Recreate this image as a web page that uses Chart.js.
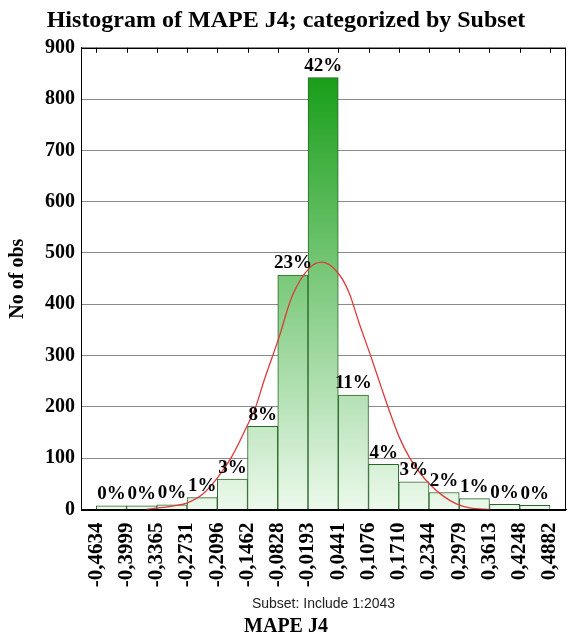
<!DOCTYPE html>
<html>
<head>
<meta charset="utf-8">
<script src="https://cdn.jsdelivr.net/npm/chart.js@4/dist/chart.umd.min.js"></script>
<style>
  html, body { margin: 0; padding: 0; background: #ffffff; }
  #wrap { width: 568px; height: 637px; }
</style>
</head>
<body>
<div id="wrap"><canvas id="c" width="568" height="637"></canvas></div>
<script>
// ---- data ----
const binEdges = [-0.4634, -0.3999, -0.3365, -0.2731, -0.2096, -0.1462, -0.0828, -0.0193,
                  0.0441, 0.1076, 0.1710, 0.2344, 0.2979, 0.3613, 0.4248, 0.4882];
const tickLabels = ["-0,4634", "-0,3999", "-0,3365", "-0,2731", "-0,2096", "-0,1462", "-0,0828", "-0,0193",
                    "0,0441", "0,1076", "0,1710", "0,2344", "0,2979", "0,3613", "0,4248", "0,4882"];
const counts = [7, 7, 9, 23, 59, 162, 457, 842, 223, 88, 54, 33, 21, 10, 8];
const percentLabels = ["0%", "0%", "0%", "1%", "3%", "8%", "23%", "42%", "11%", "4%", "3%", "2%", "1%", "0%", "0%"];
const curveX = [-0.358, -0.333, -0.301, -0.272, -0.240, -0.209, -0.178, -0.146, -0.129, -0.112, -0.080,
                -0.053, -0.017, 0.010, 0.046, 0.067, 0.088, 0.113, 0.134, 0.151, 0.172, 0.193, 0.214,
                0.235, 0.263, 0.292, 0.320, 0.362];
const curveY = [0, 3, 7, 13, 30, 62, 105, 165, 200, 250, 336,
                415, 470, 482, 458, 422, 363, 297, 239, 193, 141, 102, 73,
                50, 27, 11, 3, 0];
const yTicks = [0, 100, 200, 300, 400, 500, 600, 700, 800, 900];

const SERIF = "'Liberation Serif', 'Times New Roman', serif";
const SANS = "'Liberation Sans', Arial, sans-serif";

const barPoints = counts.map((c, i) => ({ x: (binEdges[i] + binEdges[i + 1]) / 2, y: c }));
const curvePoints = curveX.map((x, i) => ({ x: x, y: curveY[i] }));

const framePlugin = {
  id: 'frame',
  afterDatasetsDraw(chart) {
    const { ctx, chartArea: a, scales } = chart;
    ctx.save();
    // percentage labels
    const meta = chart.getDatasetMeta(1);
    ctx.fillStyle = '#000';
    ctx.font = 'bold 19px ' + SERIF;
    ctx.textAlign = 'center';
    ctx.textBaseline = 'bottom';
    meta.data.forEach((bar, i) => {
      ctx.fillText(percentLabels[i], bar.x, bar.y - 2);
    });
    // frame
    ctx.strokeStyle = '#000';
    ctx.lineWidth = 1;
    ctx.strokeRect(Math.round(a.left) + 0.5, Math.round(a.top) + 0.5,
                   Math.round(a.right - a.left) - 1, Math.round(a.bottom - a.top));
    // inward ticks on top edge
    ctx.beginPath();
    binEdges.forEach(v => {
      const px = Math.round(scales.x.getPixelForValue(v)) + 0.5;
      ctx.moveTo(px, a.top);
      ctx.lineTo(px, a.top + 5);
    });
    ctx.stroke();
    ctx.restore();
  }
};

new Chart(document.getElementById('c'), {
  type: 'bar',
  data: {
    datasets: [
      {
        type: 'line',
        data: curvePoints,
        borderColor: '#dd3b3b',
        borderWidth: 1.3,
        pointRadius: 0,
        cubicInterpolationMode: 'monotone',
        fill: false,
        order: 0
      },
      {
        type: 'bar',
        data: barPoints,
        barPercentage: 1.0,
        categoryPercentage: 1.0,
        borderWidth: 1,
        borderColor: '#2a662a',
        backgroundColor: (ctx) => {
          const chart = ctx.chart;
          const a = chart.chartArea;
          if (!a) return '#8c8';
          const g = chart.ctx.createLinearGradient(0, a.top, 0, a.bottom);
          g.addColorStop(0, 'rgb(10,152,10)');
          g.addColorStop(1, 'rgb(236,249,236)');
          return g;
        },
        order: 1
      }
    ]
  },
  options: {
    responsive: false,
    devicePixelRatio: 1,
    animation: false,
    layout: { padding: { left: 6, right: 2, top: 0, bottom: 0 } },
    plugins: {
      legend: { display: false },
      tooltip: { enabled: false },
      title: {
        display: true,
        text: 'Histogram of MAPE J4; categorized by Subset',
        color: '#000',
        font: { family: SERIF, size: 24, weight: 'bold' },
        padding: { top: 6, bottom: 13 }
      },
      subtitle: {
        display: true,
        position: 'bottom',
        text: 'MAPE J4',
        color: '#000',
        font: { family: SERIF, size: 20, weight: 'bold' },
        padding: { top: 0, bottom: -2 }
      }
    },
    scales: {
      x: {
        type: 'linear',
        offset: false,
        min: -0.4955,
        max: 0.5218,
        afterBuildTicks: (axis) => { axis.ticks = binEdges.map(v => ({ value: v })); },
        afterFit: (axis) => { axis.paddingRight = 0; axis.paddingLeft = 0; },
        ticks: {
          autoSkip: false,
          minRotation: 90,
          maxRotation: 90,
          padding: 5,
          color: '#000',
          font: { family: SERIF, size: 21, weight: 'bold' },
          callback: (v, i) => tickLabels[i]
        },
        grid: { display: false },
        border: { display: true, color: '#000' },
        title: {
          display: true,
          text: 'Subset: Include 1:2043',
          color: '#222',
          font: { family: SANS, size: 14 },
          padding: { top: 4, bottom: 2 }
        }
      },
      y: {
        min: 0,
        max: 900,
        afterBuildTicks: (axis) => { axis.ticks = yTicks.map(v => ({ value: v })); },
        ticks: {
          padding: 6,
          color: '#000',
          font: { family: SERIF, size: 20, weight: 'bold' }
        },
        grid: { color: '#8a8a8a', drawTicks: false, lineWidth: 1 },
        border: { display: true, color: '#000' },
        title: {
          display: true,
          text: 'No of obs',
          color: '#000',
          font: { family: SERIF, size: 20, weight: 'bold' },
          padding: { top: 0, bottom: 9 }
        }
      }
    }
  },
  plugins: [framePlugin]
});
</script>
</body>
</html>
